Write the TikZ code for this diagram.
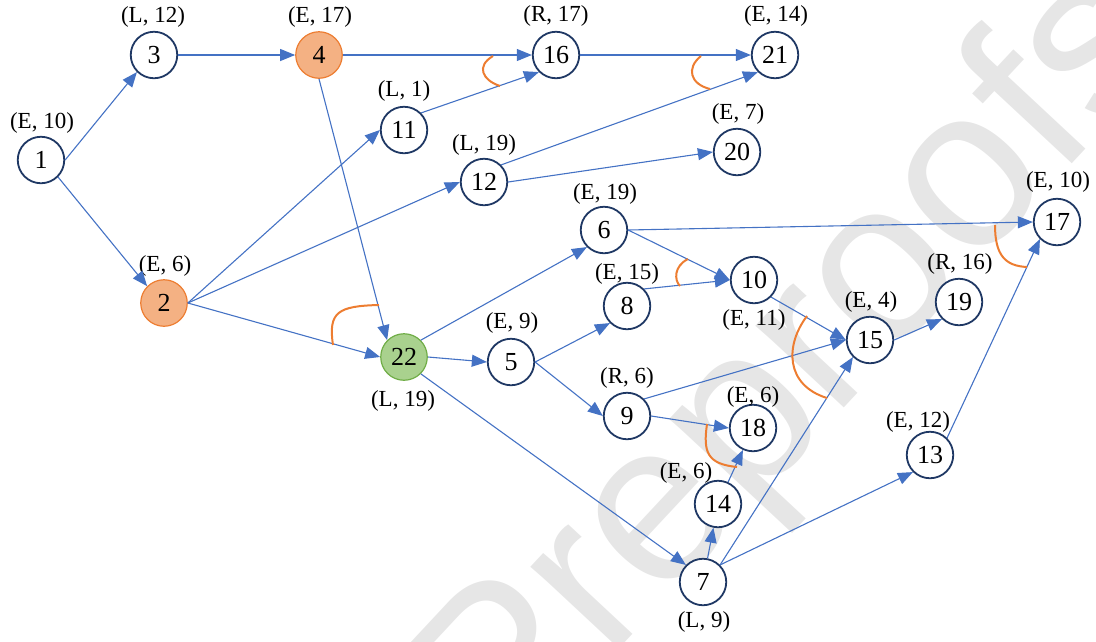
\documentclass[tikz,border=0pt]{standalone}
\usepackage{fontspec}
\setmainfont{Liberation Serif}
\newfontfamily\wmfont{Liberation Sans}
\usetikzlibrary{arrows.meta}
\definecolor{edgeblue}{HTML}{4472C4}
\definecolor{navy}{HTML}{1F3864}
\definecolor{arcorange}{HTML}{ED7D31}
\definecolor{orfill}{HTML}{F4B183}
\definecolor{grfill}{HTML}{A9D18E}
\definecolor{grline}{HTML}{70AD47}
\definecolor{wmgray}{HTML}{E6E6E6}
\begin{document}
\begin{tikzpicture}[x=1pt,y=-1pt,
 vert/.style={circle,draw=navy,line width=1.8pt,minimum size=46.5pt,inner sep=0pt,fill=white,font=\fontsize{26}{26}\selectfont},
 hot/.style={vert,draw=arcorange,fill=orfill,line width=1.2pt},
 src/.style={vert,draw=grline,fill=grfill,line width=1.2pt},
 lab/.style={font=\fontsize{23}{23}\selectfont,inner sep=0pt},
 edge/.style={draw=edgeblue,line width=1.1pt,-{Triangle[length=15pt,width=12pt]}},
 cut/.style={draw=arcorange,line width=2pt}]
\useasboundingbox (0,0) rectangle (1096,641);
\begin{scope}
\clip (0,0) rectangle (1096,641);
\node[rotate=47,anchor=base west,text=wmgray,inner sep=0pt,font=\wmfont\fontsize{228}{228}\selectfont] (wm) at (505,772) {Preproofs};
\end{scope}
% nodes
\node[vert] (n1) at (41,160) {1};
\node[vert] (n3) at (154,55) {3};
\node[hot] (n4) at (319,55) {4};
\node[vert] (n16) at (556,55) {16};
\node[vert] (n21) at (775,55) {21};
\node[vert] (n11) at (404,130) {11};
\node[vert] (n12) at (484,182) {12};
\node[vert] (n20) at (737,152) {20};
\node[hot] (n2) at (164,303) {2};
\node[vert] (n6) at (604,230) {6};
\node[vert] (n17) at (1057,222) {17};
\node[vert] (n10) at (754,280) {10};
\node[vert] (n8) at (627,306) {8};
\node[vert] (n19) at (959,302) {19};
\node[vert] (n15) at (870,340) {15};
\node[src] (n22) at (404,357) {22};
\node[vert] (n5) at (511,362) {5};
\node[vert] (n9) at (627,416) {9};
\node[vert] (n18) at (753,428) {18};
\node[vert] (n13) at (930,455) {13};
\node[vert] (n14) at (718,504) {14};
\node[vert] (n7) at (703,582) {7};
% labels
\node[lab] (l1) at (42,123) {(E, 10)};
\node[lab] (l3) at (153,17) {(L, 12)};
\node[lab] (l4) at (320,17) {(E, 17)};
\node[lab] (l16) at (556,16) {(R, 17)};
\node[lab] (l21) at (776,16) {(E, 14)};
\node[lab] (l11) at (404,91) {(L, 1)};
\node[lab] (l12) at (484,145) {(L, 19)};
\node[lab] (l20) at (738,114) {(E, 7)};
\node[lab] (l2) at (165,266) {(E, 6)};
\node[lab] (l6) at (605,194) {(E, 19)};
\node[lab] (l17) at (1058,182) {(E, 10)};
\node[lab] (l8) at (627,274) {(E, 15)};
\node[lab] (l19) at (960,264) {(R, 16)};
\node[lab] (l15) at (871,302) {(E, 4)};
\node[lab] (l10) at (754,320) {(E, 11)};
\node[lab] (l5) at (512,323) {(E, 9)};
\node[lab] (l22) at (403,401) {(L, 19)};
\node[lab] (l9) at (627,378) {(R, 6)};
\node[lab] (l18) at (753,397) {(E, 6)};
\node[lab] (l14) at (686,473) {(E, 6)};
\node[lab] (l13) at (918,422) {(E, 12)};
\node[lab] (l7) at (704,622) {(L, 9)};
% edges
\draw[edge] (n1.east) -- (n3.south west);
\draw[edge] (n1.south east) -- (n2.north west);
\draw[edge] (n3.east) -- (n4.west);
\draw[edge] (n4.east) -- (n16.west);
\draw[edge] (n4.south) -- (n22.north west);
\draw[edge] (n2.east) -- (n11.west);
\draw[edge] (n2.east) -- (n12.west);
\draw[edge] (n2.east) -- (n22.west);
\draw[edge] (n11.north east) -- (n16.south west);
\draw[edge] (n16.east) -- (n21.west);
\draw[edge] (n12.north east) -- (n21.south west);
\draw[edge] (n12.east) -- (n20.west);
\draw[edge] (n22.north east) -- (n6.south west);
\draw[edge] (n22.east) -- (n5.west);
\draw[edge] (n22.south east) -- (n7.north west);
\draw[edge] (n6.east) -- (n17.west);
\draw[edge] (n6.east) -- (n10.west);
\draw[edge] (n8.north east) -- (n10.west);
\draw[edge] (n5.east) -- (n8.south west);
\draw[edge] (n5.east) -- (n9.west);
\draw[edge] (n10.south east) -- (n15.west);
\draw[edge] (n9.north east) -- (n15.west);
\draw[edge] (n9.east) -- (n18.west);
\draw[edge] (n14) -- (n18);
\draw[edge] (n7) -- (n14);
\draw[edge] (n7.north east) -- (n15.south west);
\draw[edge] (n7.north east) -- (n13.south west);
\draw[edge] (n13.north east) -- (n17.south west);
\draw[edge] (n15.east) -- (n19.south west);
% orange arcs
\draw[cut] (493,56) .. controls (476,66) and (482,80) .. (500,86);
\draw[cut] (701,56) .. controls (686,68) and (690,84) .. (710,89);
\draw[cut] (688,259) .. controls (674,266) and (674,280) .. (680,286);
\draw[cut] (333,345) .. controls (328,312) and (338,306) .. (379,305);
\draw[cut] (807,316) .. controls (785,345) and (785,385) .. (827,398);
\draw[cut] (995,225) .. controls (995,255) and (1005,266) .. (1027,267);
\draw[cut] (707,424) .. controls (703,452) and (707,464) .. (737,467);
\end{tikzpicture}
\end{document}
